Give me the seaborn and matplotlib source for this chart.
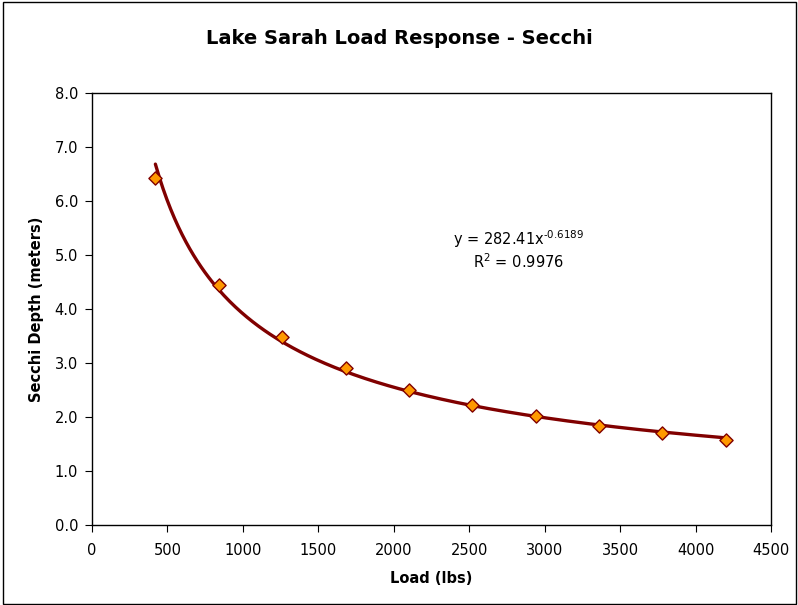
"""
Lake Sarah load response - Secchi depth vs load, with power trendline
"""

import numpy as np
import pandas as pd
import matplotlib
matplotlib.use("Agg")
import matplotlib.pyplot as plt
import seaborn as sns
from matplotlib.patches import Rectangle

sns.set_style("ticks")
plt.rcParams["font.family"] = ["DejaVu Sans"]
plt.rcParams["text.color"] = "black"
plt.rcParams["axes.labelcolor"] = "black"
plt.rcParams["mathtext.default"] = "regular"

# data
load_lbs = [420, 840, 1260, 1680, 2100, 2520, 2940, 3360, 3780, 4200]
secchi_m = [6.43, 4.45, 3.48, 2.90, 2.50, 2.22, 2.01, 1.84, 1.70, 1.58]
eq_label = "y = 282.41x$^{\\text{-0.6189}}$\nR$^{2}$ = 0.9976"

df = pd.DataFrame({"load": load_lbs, "secchi": secchi_m})

# power trendline fitted in log space
b, log_a = np.polyfit(np.log(df["load"]), np.log(df["secchi"]), 1)
xs = np.linspace(df["load"].min(), df["load"].max(), 300)
trend = pd.DataFrame({"load": xs, "secchi": np.exp(log_a) * xs ** b})

fig = plt.figure(figsize=(7.98, 6.05), dpi=100)
ax = fig.add_axes([0.1153, 0.1322, 0.8509, 0.7141])

sns.lineplot(data=trend, x="load", y="secchi", color="#800000", linewidth=2.4, ax=ax)
sns.scatterplot(data=df, x="load", y="secchi", marker="D", s=45, color="#FF9900",
                edgecolor="#800000", linewidth=1.0, zorder=3, ax=ax)

ax.set_xlim(0, 4500)
ax.set_ylim(0, 8)
ax.set_xticks(np.arange(0, 4501, 500))
ax.set_yticks(np.arange(0, 8.1, 1))
ax.set_yticklabels([f"{v:.1f}" for v in np.arange(0, 8.1, 1)])
ax.tick_params(axis="both", labelsize=10.5, length=5, width=0.8, colors="black")
ax.tick_params(axis="x", pad=8)
ax.tick_params(axis="y", pad=5)
for s in ax.spines.values():
    s.set_visible(True)
    s.set_color("black")
    s.set_linewidth(1.0)

ax.set_xlabel("Load (lbs)", fontsize=10.5, weight="bold", labelpad=9)
ax.set_ylabel("Secchi Depth (meters)", fontsize=10.5, weight="bold", labelpad=8)
fig.text(0.5, 0.937, "Lake Sarah Load Response - Secchi", ha="center", va="center",
         fontsize=14, weight="bold")

ax.text(2825, 5.1, eq_label, ha="center", va="center", fontsize=10.5, linespacing=1.2)

fig.patches.append(Rectangle((0.004, 0.002), 0.994, 0.994, transform=fig.transFigure,
                             fill=False, edgecolor="black", linewidth=1.0))

plt.savefig("out.png", dpi=100)
